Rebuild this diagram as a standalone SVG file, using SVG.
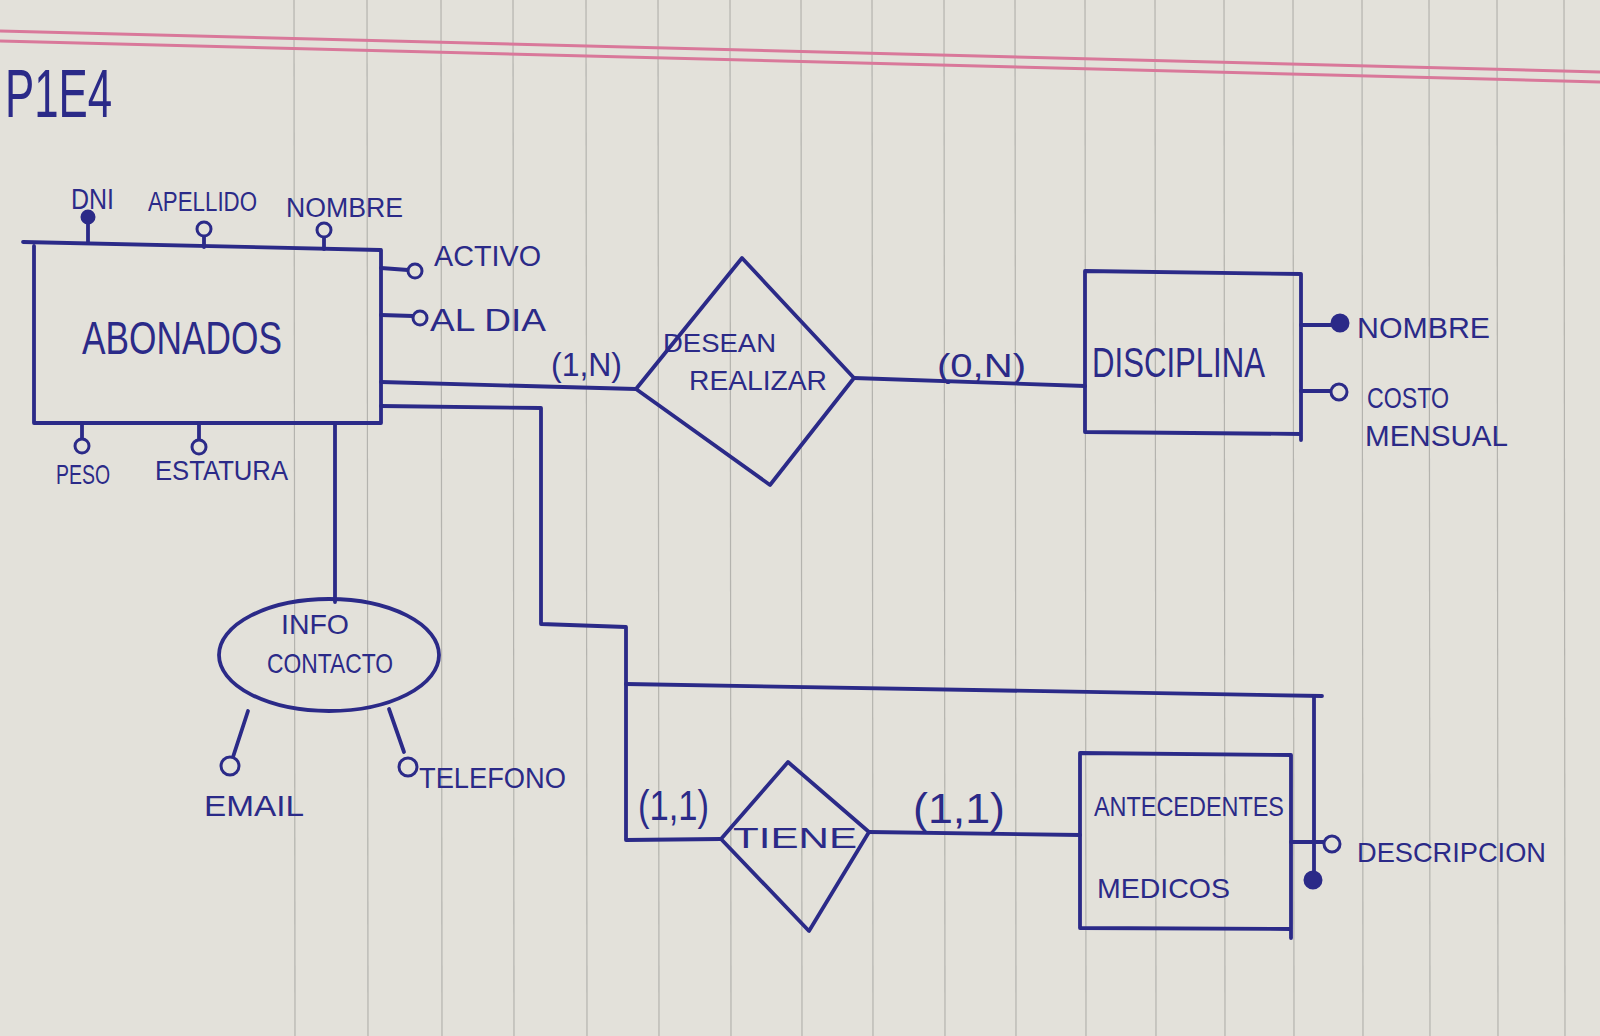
<svg xmlns="http://www.w3.org/2000/svg" width="1600" height="1036" viewBox="0 0 1600 1036">
<defs>
<style>
.ink{fill:none;stroke:#2b2a88;stroke-width:3.8;stroke-linecap:round;stroke-linejoin:round}
.dot{fill:#e3e1da;stroke:#2b2a88;stroke-width:3}
.key{fill:#2b2a88;stroke:#2b2a88;stroke-width:3}
.t{font-family:"Liberation Sans","DejaVu Sans",sans-serif;fill:#2b2a88}
.paper{stroke:#b4b3ae;stroke-width:1.2}
.margin{stroke:#d9789a;stroke-width:3;fill:none}
</style>
</defs>
<rect width="1600" height="1036" fill="#e3e1da"/>
<g id="paper">
<line class="paper" x1="294" y1="0" x2="295" y2="1036"/>
<line class="paper" x1="367" y1="0" x2="368" y2="1036"/>
<line class="paper" x1="441" y1="0" x2="442" y2="1036"/>
<line class="paper" x1="513" y1="0" x2="514" y2="1036"/>
<line class="paper" x1="586" y1="0" x2="587" y2="1036"/>
<line class="paper" x1="658" y1="0" x2="659" y2="1036"/>
<line class="paper" x1="730" y1="0" x2="731" y2="1036"/>
<line class="paper" x1="801" y1="0" x2="802" y2="1036"/>
<line class="paper" x1="872" y1="0" x2="873" y2="1036"/>
<line class="paper" x1="944" y1="0" x2="945" y2="1036"/>
<line class="paper" x1="1015" y1="0" x2="1016" y2="1036"/>
<line class="paper" x1="1085" y1="0" x2="1086" y2="1036"/>
<line class="paper" x1="1155" y1="0" x2="1156" y2="1036"/>
<line class="paper" x1="1224" y1="0" x2="1225" y2="1036"/>
<line class="paper" x1="1293" y1="0" x2="1294" y2="1036"/>
<line class="paper" x1="1362" y1="0" x2="1363" y2="1036"/>
<line class="paper" x1="1429" y1="0" x2="1430" y2="1036"/>
<line class="paper" x1="1497" y1="0" x2="1498" y2="1036"/>
<line class="paper" x1="1564" y1="0" x2="1565" y2="1036"/>
<path class="margin" d="M0,31 L1600,72"/>
<path class="margin" d="M0,41 L1600,82"/>
</g>
<text class="t" x="5" y="117" font-size="68" textLength="107" lengthAdjust="spacingAndGlyphs">P1E4</text>

<g id="connectors">
<path class="ink" d="M381,382 L636,389"/>
<path class="ink" d="M854,378 L1085,386"/>
<path class="ink" d="M335,423 L335,602"/>
<path class="ink" d="M381,406 L541,408 L541,624 L626,627 L626,840 L721,839"/>
<path class="ink" d="M626,684 L1322,696"/>
<path class="ink" d="M1314,696 L1314,880"/>
<path class="ink" d="M869,832 L1080,835"/>
<text class="t" x="551" y="376" font-size="34" textLength="71" lengthAdjust="spacingAndGlyphs">(1,N)</text>
<text class="t" x="937" y="377" font-size="34" textLength="89" lengthAdjust="spacingAndGlyphs">(0,N)</text>
<text class="t" x="638" y="820" font-size="42" textLength="71" lengthAdjust="spacingAndGlyphs">(1,1)</text>
<text class="t" x="913" y="823" font-size="42" textLength="92" lengthAdjust="spacingAndGlyphs">(1,1)</text>
</g>

<g id="abonados">
<path class="ink" d="M23,242 L380,250"/>
<path class="ink" d="M34,246 L34,423 L381,423 L381,250"/>
<text class="t" x="82" y="354" font-size="46" textLength="200" lengthAdjust="spacingAndGlyphs">ABONADOS</text>
</g>
<g id="attr-dni">
<path class="ink" d="M88,217 L88,243"/>
<circle class="key" cx="88" cy="217" r="6"/>
<text class="t" x="71" y="209" font-size="30" textLength="43" lengthAdjust="spacingAndGlyphs">DNI</text>
</g>
<g id="attr-apellido">
<path class="ink" d="M204,236 L204,247"/>
<circle class="dot" cx="204" cy="229" r="7"/>
<text class="t" x="148" y="211" font-size="27" textLength="109" lengthAdjust="spacingAndGlyphs">APELLIDO</text>
</g>
<g id="attr-nombre-abonados">
<path class="ink" d="M324,237 L324,249"/>
<circle class="dot" cx="324" cy="230" r="7"/>
<text class="t" x="286" y="217" font-size="27" textLength="117" lengthAdjust="spacingAndGlyphs">NOMBRE</text>
</g>
<g id="attr-activo">
<path class="ink" d="M381,268 L408,270"/>
<circle class="dot" cx="415" cy="271" r="7"/>
<text class="t" x="434" y="266" font-size="30" textLength="107" lengthAdjust="spacingAndGlyphs">ACTIVO</text>
</g>
<g id="attr-aldia">
<path class="ink" d="M381,315 L413,316"/>
<circle class="dot" cx="420" cy="318" r="7"/>
<text class="t" x="430" y="331" font-size="32" textLength="116" lengthAdjust="spacingAndGlyphs">AL DIA</text>
</g>
<g id="attr-peso">
<path class="ink" d="M82,423 L82,439"/>
<circle class="dot" cx="82" cy="446" r="7"/>
<text class="t" x="56" y="484" font-size="28" textLength="54" lengthAdjust="spacingAndGlyphs">PESO</text>
</g>
<g id="attr-estatura">
<path class="ink" d="M199,423 L199,440"/>
<circle class="dot" cx="199" cy="447" r="7"/>
<text class="t" x="155" y="480" font-size="27" textLength="133" lengthAdjust="spacingAndGlyphs">ESTATURA</text>
</g>

<g id="desean-realizar">
<path class="ink" d="M742,258 L854,378 L770,485 L636,389 Z"/>
<text class="t" x="663" y="352" font-size="26" textLength="113" lengthAdjust="spacingAndGlyphs">DESEAN</text>
<text class="t" x="689" y="390" font-size="27" textLength="138" lengthAdjust="spacingAndGlyphs">REALIZAR</text>
</g>

<g id="disciplina">
<path class="ink" d="M1085,271 L1301,274 L1301,440 M1301,434 L1085,432 L1085,271"/>
<text class="t" x="1092" y="377" font-size="42" textLength="173" lengthAdjust="spacingAndGlyphs">DISCIPLINA</text>
</g>
<g id="attr-nombre-disciplina">
<path class="ink" d="M1301,325 L1331,325"/>
<circle class="key" cx="1340" cy="323" r="8"/>
<text class="t" x="1357" y="338" font-size="30" textLength="133" lengthAdjust="spacingAndGlyphs">NOMBRE</text>
</g>
<g id="attr-costo">
<path class="ink" d="M1301,391 L1331,391"/>
<circle class="dot" cx="1339" cy="392" r="8"/>
<text class="t" x="1367" y="408" font-size="30" textLength="82" lengthAdjust="spacingAndGlyphs">COSTO</text>
<text class="t" x="1365" y="446" font-size="30" textLength="143" lengthAdjust="spacingAndGlyphs">MENSUAL</text>
</g>

<g id="info-contacto">
<ellipse class="ink" cx="329" cy="655" rx="110" ry="56"/>
<text class="t" x="281" y="634" font-size="28" textLength="68" lengthAdjust="spacingAndGlyphs">INFO</text>
<text class="t" x="267" y="673" font-size="28" textLength="126" lengthAdjust="spacingAndGlyphs">CONTACTO</text>
</g>
<g id="attr-email">
<path class="ink" d="M248,711 L233,757"/>
<circle class="dot" cx="230" cy="766" r="9"/>
<text class="t" x="204" y="816" font-size="30" textLength="100" lengthAdjust="spacingAndGlyphs">EMAIL</text>
</g>
<g id="attr-telefono">
<path class="ink" d="M389,709 L404,752"/>
<circle class="dot" cx="408" cy="767" r="9"/>
<text class="t" x="419" y="788" font-size="30" textLength="147" lengthAdjust="spacingAndGlyphs">TELEFONO</text>
</g>

<g id="tiene">
<path class="ink" d="M788,762 L869,832 L809,931 L721,839 Z"/>
<text class="t" x="733" y="848" font-size="30" textLength="124" lengthAdjust="spacingAndGlyphs">TIENE</text>
</g>

<g id="antecedentes-medicos">
<path class="ink" d="M1080,753 L1291,755 L1291,938 M1291,929 L1080,928 L1080,753"/>
<text class="t" x="1094" y="816" font-size="28" textLength="190" lengthAdjust="spacingAndGlyphs">ANTECEDENTES</text>
<text class="t" x="1097" y="898" font-size="28" textLength="133" lengthAdjust="spacingAndGlyphs">MEDICOS</text>
</g>
<g id="attr-descripcion">
<path class="ink" d="M1291,842 L1325,842"/>
<circle class="dot" cx="1332" cy="844" r="8"/>
<text class="t" x="1357" y="862" font-size="28" textLength="189" lengthAdjust="spacingAndGlyphs">DESCRIPCION</text>
</g>
<g id="attr-key-antecedentes">
<circle class="key" cx="1313" cy="880" r="8"/>
</g>
</svg>
